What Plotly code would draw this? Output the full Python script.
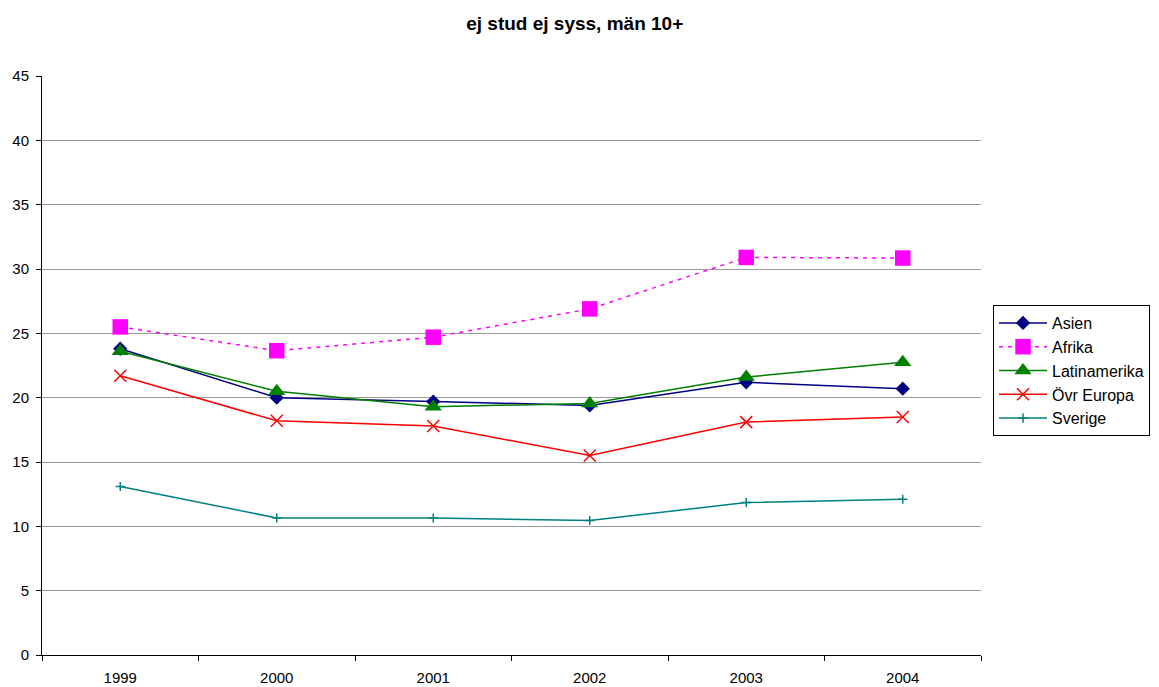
import plotly.graph_objects as go

# data
years = ["1999", "2000", "2001", "2002", "2003", "2004"]
asien = [23.8, 20.0, 19.7, 19.4, 21.2, 20.7]
afrika = [25.5, 23.65, 24.7, 26.9, 30.9, 30.85]
latinamerika = [23.6, 20.5, 19.3, 19.55, 21.6, 22.75]
ovr_europa = [21.7, 18.2, 17.8, 15.5, 18.1, 18.5]
sverige = [13.1, 10.65, 10.65, 10.45, 11.85, 12.1]

fig = go.Figure()

series = [
    ("Asien", asien, "#000080", "solid", "diamond", 11, None),
    ("Afrika", afrika, "#FF00FF", "4px,5px", "square", 15.5, None),
    ("Latinamerika", latinamerika, "#008000", "solid", "triangle-up", 15, None),
    ("Övr Europa", ovr_europa, "#FF0000", "solid", "x-thin", 12, 1.5),
    ("Sverige", sverige, "#008080", "solid", "cross-thin", 6.5, 1.5),
]

for name, vals, col, dash, sym, size, mlw in series:
    marker = dict(symbol=sym, size=size, color=col)
    if mlw:
        marker["line"] = dict(color=col, width=mlw)
    fig.add_trace(go.Scatter(
        x=years, y=vals, name=name, mode="lines+markers",
        line=dict(color=col, width=1.5, dash=dash),
        marker=marker,
    ))

fig.update_layout(
    width=1159, height=687,
    paper_bgcolor="white", plot_bgcolor="white",
    font=dict(family="Liberation Sans, Arial, sans-serif", size=15, color="black"),
    title=dict(text="<b>ej stud ej syss, män 10+</b>", x=0.489, xref="container",
               xanchor="center", y=0.978, yref="container", yanchor="middle",
               font=dict(size=19)),
    margin=dict(l=34, r=186, t=68, b=40),
    showlegend=True,
    legend=dict(x=1.0128, y=0.6045, xanchor="left", yanchor="top",
                bordercolor="black", borderwidth=1, font=dict(size=16),
                tracegroupgap=0, itemwidth=48),
)

fig.update_xaxes(
    type="category", tickson="boundaries", ticks="outside", ticklen=5,
    tickcolor="black", showline=True, linecolor="black", linewidth=1,
    showgrid=False, range=[-0.5, 5.5], automargin=False, ticklabelstandoff=9,
)
fig.update_yaxes(
    range=[0, 45], dtick=5, ticks="outside", ticklen=5, tickcolor="black",
    showline=True, linecolor="black", linewidth=1, ticklabelstandoff=4,
    showgrid=True, gridcolor="#999999", gridwidth=1, zeroline=False,
    automargin=False,
)

fig.write_html("out.html")
